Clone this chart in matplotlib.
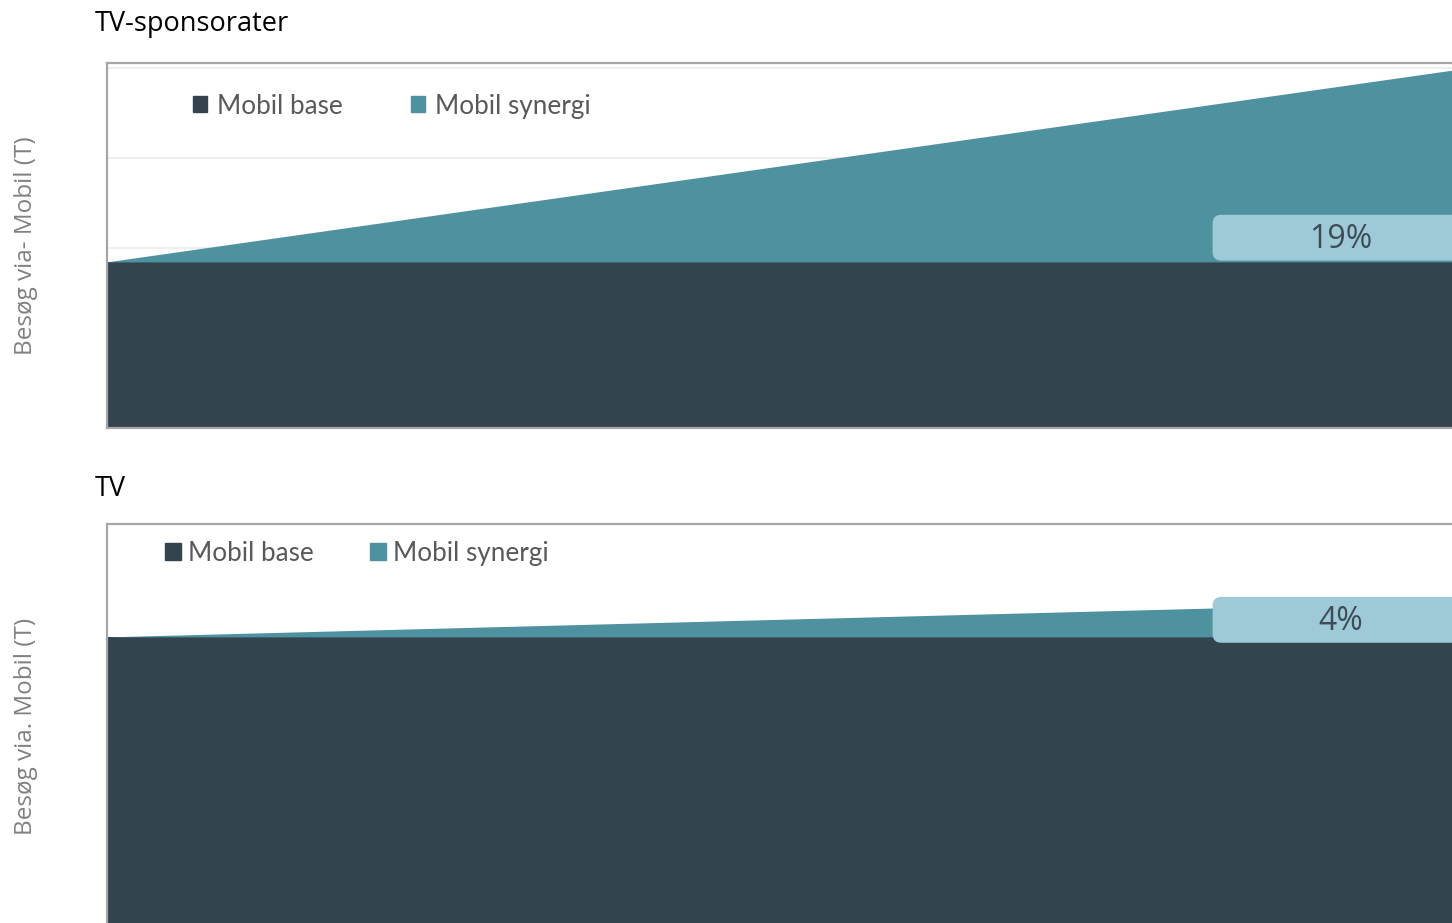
import matplotlib.pyplot as plt
from matplotlib.patches import FancyBboxPatch, Patch

# data (arbitrary units)
x = [0, 1]
top_base = [1.84, 1.84]
top_synergy = [0.0, 2.13]
top_label = '19%'
bottom_base = [3.23, 3.23]
bottom_synergy = [0.0, 0.39]
bottom_label = '4%'

base_color = '#33444f'
syn_color = '#4e919f'
box_color = '#9ecad7'
frame_color = '#a6a6a6'

fig = plt.figure(figsize=(14.52, 9.23), dpi=100)

W, H = 1452, 923


def place(left, top, right, bottom):
    return [left / W, 1 - bottom / H, (right - left) / W, (bottom - top) / H]


def panel(ax, base, synergy, ylim, title, title_y, ylabel, label, box_y, leg_x, leg_y,
          hlen, tpad, colspace, grid=False):
    ax.stackplot(x, base, synergy, colors=[base_color, syn_color],
                 labels=['Mobil base', 'Mobil synergi'], zorder=2)
    ax.set_xlim(0, 1)
    ax.set_ylim(*ylim)
    ax.set_xticks([])
    if grid:
        ax.set_yticks([1, 2, 3, 4])
        ax.grid(axis='y', color='#ebebeb', linewidth=1.2, zorder=0)
    else:
        ax.set_yticks([])
    ax.tick_params(axis='y', length=0, labelleft=False)
    ax.spines['right'].set_visible(False)
    for s in ['top', 'left', 'bottom']:
        ax.spines[s].set_color(frame_color)
        ax.spines[s].set_linewidth(1.6)

    ax.text(-0.009, title_y, title, transform=ax.transAxes, ha='left', va='center',
            fontsize=19.5, family='Open Sans', color='black')
    ax.set_ylabel(ylabel, fontsize=17.5, family='Open Sans', color='#808080')
    ax.yaxis.set_label_coords(-0.051, 0.5)

    handles = [Patch(color=base_color), Patch(color=syn_color)]
    ax.legend(handles, ['Mobil base', 'Mobil synergi'], loc='center left',
              bbox_to_anchor=(leg_x, leg_y), ncol=2, frameon=False,
              borderpad=0, borderaxespad=0, handlelength=hlen, handleheight=hlen,
              handletextpad=tpad, columnspacing=colspace,
              prop={'family': 'Lato', 'size': 18.8}, labelcolor='#595959')

    # rounded label box
    y0, y1 = box_y
    box = FancyBboxPatch((0.822, y0), 0.3, y1 - y0,
                         boxstyle='round,pad=0,rounding_size=0.0065',
                         mutation_aspect=1345 / 90, facecolor=box_color,
                         edgecolor='none', zorder=3, clip_on=False)
    ax.add_patch(box)
    ax.text(0.917, (y0 + y1) / 2 - 0.02, label, ha='center', va='center', fontsize=23,
            family='Open Sans', color='#3d4c57', zorder=4)


ax1 = fig.add_axes(place(107, 63, 1452, 428))
panel(ax1, top_base, top_synergy, (0, 4.056), 'TV-sponsorater', 1.108,
      'Besøg via- Mobil (T)', top_label, (1.86, 2.37), 0.064, 0.882,
      0.55, 0.38, 2.6, grid=True)

ax2 = fig.add_axes(place(107, 524, 1452, 928))
panel(ax2, bottom_base, bottom_synergy, (0, 4.49), 'TV', 1.087,
      'Besøg via. Mobil (T)', bottom_label, (3.17, 3.68), 0.043, 0.928,
      0.62, 0.27, 2.15)

fig.savefig('out.png', dpi=100)
